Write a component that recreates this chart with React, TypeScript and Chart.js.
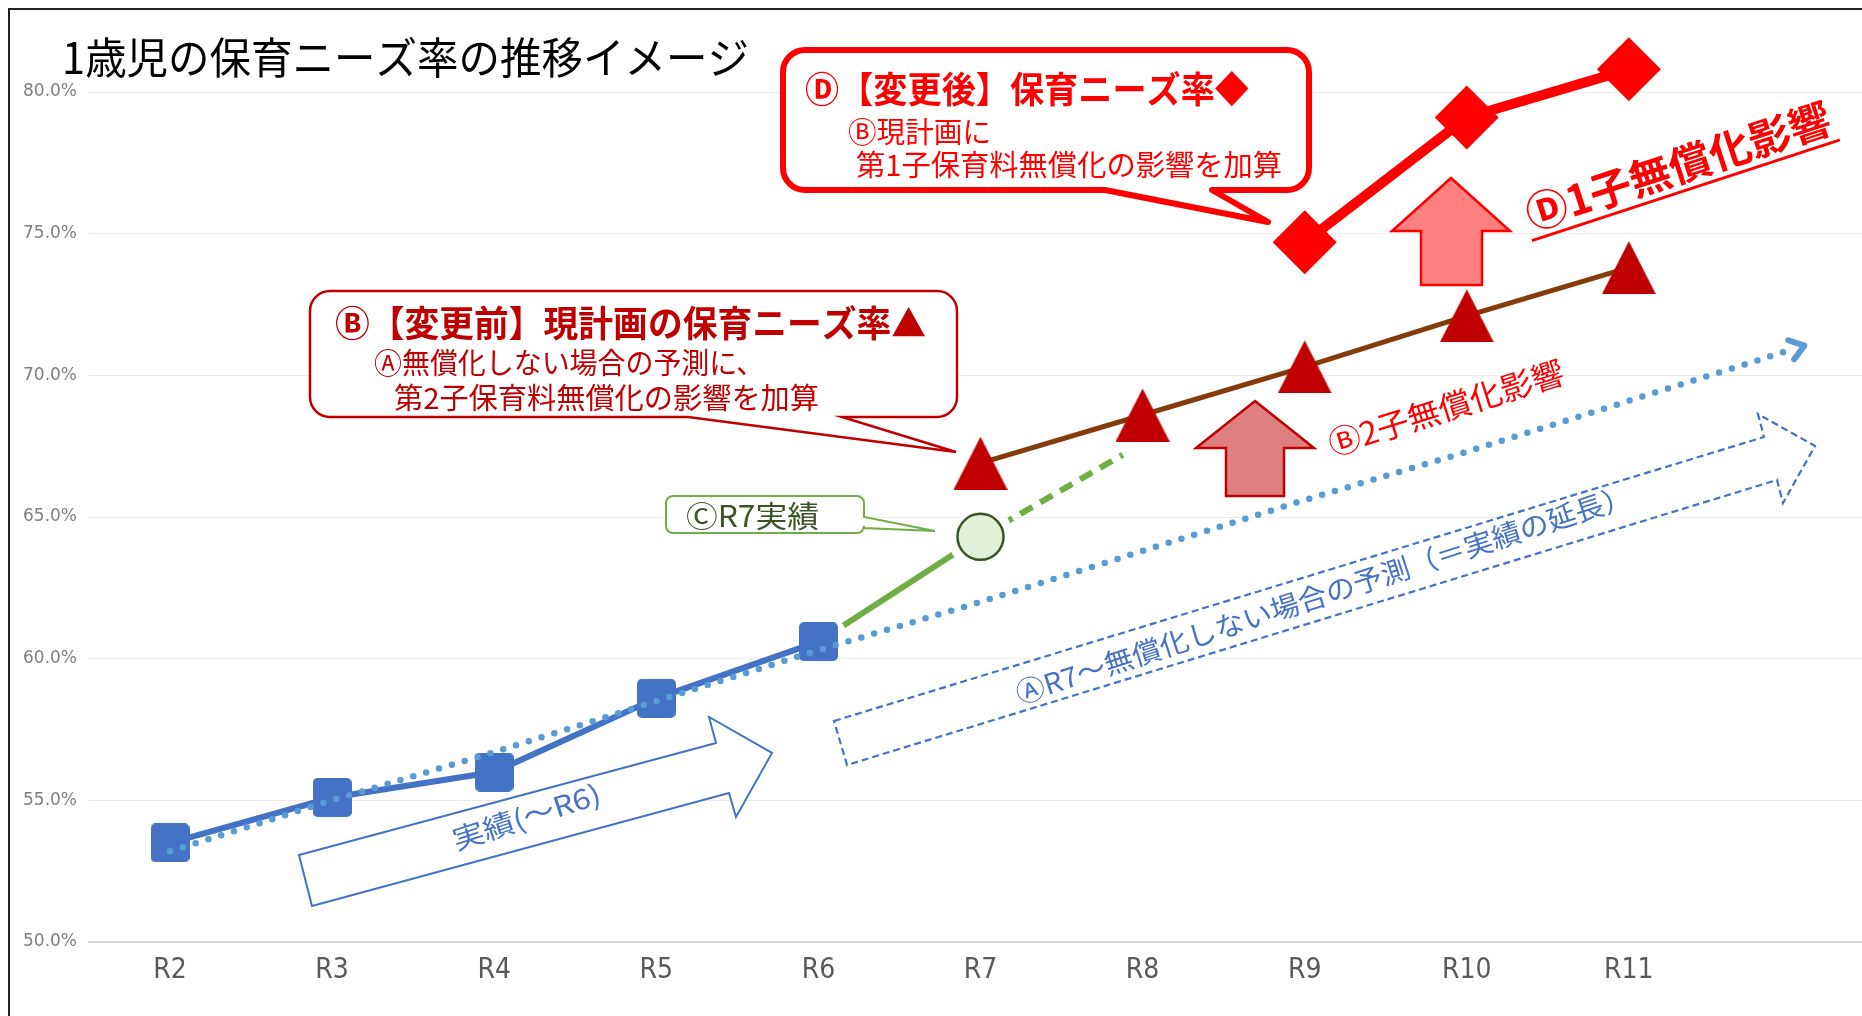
import React, { useEffect, useRef } from 'react';
import { Chart, registerables } from 'chart.js';

Chart.register(...registerables);

// ---- data ----
const CATEGORIES = ['R2', 'R3', 'R4', 'R5', 'R6', 'R7', 'R8', 'R9', 'R10', 'R11', ''];
const Y_TICKS = [50, 55, 60, 65, 70, 75, 80];
const ACTUAL = [53.5, 55.1, 56.0, 58.6, 60.6, null, null, null, null, null, null];
const NO_FREE_TREND = [53.2, 55.0, 56.7, 58.5, 60.3, 62.0, 63.8, 65.6, 67.3, 69.1, 70.9];
const R7_RESULT = [null, null, null, null, 60.6, 64.3, 67.6, null, null, null, null];
const R7_MARK = [null, null, null, null, null, 64.3, null, null, null, null, null];
const PLAN_BEFORE = [null, null, null, null, null, 66.9, 68.6, 70.3, 72.1, 73.8, null];
const PLAN_AFTER = [null, null, null, null, null, null, null, 74.7, 79.1, 80.8, null];

// gap (px) left open around each point of the green line
const GREEN_GAPS = [0, 0, 0, 0, 30, 33, 23, 0, 0, 0, 0];
const GREEN_LINE_INDEX = 5;

const TITLE = '1歳児の保育ニーズ率の推移イメージ';
const JP = "'Noto Sans CJK JP', 'Noto Sans', sans-serif";

function makeSquare(): HTMLCanvasElement {
  const c = document.createElement('canvas');
  c.width = 39; c.height = 39;
  const g = c.getContext('2d')!;
  g.fillStyle = '#4472C4';
  g.beginPath();
  (g as any).roundRect(0, 0, 39, 39, 5);
  g.fill();
  return c;
}
function makeTriangle(): HTMLCanvasElement {
  const c = document.createElement('canvas');
  c.width = 54; c.height = 53;
  const g = c.getContext('2d')!;
  g.fillStyle = '#C00000';
  g.beginPath();
  g.moveTo(27, 0); g.lineTo(54, 53); g.lineTo(0, 53); g.closePath();
  g.fill();
  return c;
}

function drawInk(ctx: CanvasRenderingContext2D, text: string, cx: number, cy: number, w: number,
  font: string, color: string, angle = 0, underline = 0) {
  ctx.save();
  ctx.font = font;
  ctx.fillStyle = color;
  ctx.textAlign = 'left';
  ctx.textBaseline = 'alphabetic';
  const m = ctx.measureText(text);
  const l = -m.actualBoundingBoxLeft, r = m.actualBoundingBoxRight;
  const a = m.actualBoundingBoxAscent, d = m.actualBoundingBoxDescent;
  const s = w / (r - l);
  ctx.translate(cx, cy);
  ctx.rotate(angle);
  ctx.scale(s, 1);
  const ox = -(l + r) / 2, oy = (a - d) / 2;
  ctx.fillText(text, ox, oy);
  if (underline) {
    const ext = 4 / s;
    ctx.fillRect(ox + l - ext, oy + d + 3, r - l + 2 * ext, underline);
  }
  ctx.restore();
}

function roundBoxPath(ctx: CanvasRenderingContext2D, x0: number, y0: number, x1: number, y1: number, r: number,
  tail: { side: 'bottom' | 'right'; a: number; b: number; tip: [number, number] }) {
  ctx.beginPath();
  ctx.moveTo(x0 + r, y0);
  ctx.lineTo(x1 - r, y0);
  ctx.arcTo(x1, y0, x1, y0 + r, r);
  if (tail.side === 'right') {
    ctx.lineTo(x1, tail.a);
    ctx.lineTo(tail.tip[0], tail.tip[1]);
    ctx.lineTo(x1, tail.b);
  }
  ctx.lineTo(x1, y1 - r);
  ctx.arcTo(x1, y1, x1 - r, y1, r);
  if (tail.side === 'bottom') {
    ctx.lineTo(tail.b, y1);
    ctx.lineTo(tail.tip[0], tail.tip[1]);
    ctx.lineTo(tail.a, y1);
  }
  ctx.lineTo(x0 + r, y1);
  ctx.arcTo(x0, y1, x0, y1 - r, r);
  ctx.lineTo(x0, y0 + r);
  ctx.arcTo(x0, y0, x0 + r, y0, r);
  ctx.closePath();
}

function poly(ctx: CanvasRenderingContext2D, pts: number[][]) {
  ctx.beginPath();
  ctx.moveTo(pts[0][0], pts[0][1]);
  for (let i = 1; i < pts.length; i++) ctx.lineTo(pts[i][0], pts[i][1]);
  ctx.closePath();
}

function upArrow(ctx: CanvasRenderingContext2D, tipX: number, tipY: number, headY: number, headL: number, headR: number,
  shaftL: number, shaftR: number, bottom: number, fill: string, stroke: string) {
  poly(ctx, [[tipX, tipY], [headR, headY], [shaftR, headY], [shaftR, bottom], [shaftL, bottom], [shaftL, headY], [headL, headY]]);
  ctx.fillStyle = fill;
  ctx.fill();
  ctx.lineWidth = 2.5;
  ctx.strokeStyle = stroke;
  ctx.lineJoin = 'miter';
  ctx.stroke();
}

const gapPlugin = {
  id: 'greenGaps',
  beforeDatasetDraw(chart: any, args: any) {
    if (args.index !== GREEN_LINE_INDEX) return;
    const ctx: CanvasRenderingContext2D = chart.ctx;
    ctx.save();
    ctx.beginPath();
    ctx.rect(0, 0, chart.width, chart.height);
    const pts = chart.getDatasetMeta(args.index).data;
    pts.forEach((p: any, i: number) => {
      const r = GREEN_GAPS[i];
      if (r > 0 && p && !p.skip) {
        ctx.moveTo(p.x + r, p.y);
        ctx.arc(p.x, p.y, r, 0, Math.PI * 2);
      }
    });
    ctx.clip('evenodd');
  },
  afterDatasetDraw(chart: any, args: any) {
    if (args.index !== GREEN_LINE_INDEX) return;
    chart.ctx.restore();
  },
};

const annotationPlugin = {
  id: 'annotations',
  afterDatasetsDraw(chart: any) {
    const ctx: CanvasRenderingContext2D = chart.ctx;
    ctx.save();

    // arrow head at end of the dotted trend line
    const tm = chart.getDatasetMeta(2);
    const pA = tm.data[tm.data.length - 2];
    const pB = tm.data[tm.data.length - 1];
    if (pA && pB) {
      const dx = pB.x - pA.x, dy = pB.y - pA.y;
      const len = Math.hypot(dx, dy);
      const ux = dx / len, uy = dy / len;
      const tx = pB.x + ux * 14, ty = pB.y + uy * 14;
      ctx.strokeStyle = '#5B9BD5';
      ctx.lineWidth = 6;
      ctx.lineCap = 'round';
      ctx.lineJoin = 'round';
      const ang = Math.PI / 5;
      ctx.beginPath();
      for (const sgn of [1, -1]) {
        const c = Math.cos(sgn * ang), s = Math.sin(sgn * ang);
        const bx = -ux * c + uy * s, by = -ux * s - uy * c;
        ctx.moveTo(tx, ty);
        ctx.lineTo(tx + bx * 17, ty + by * 17);
      }
      ctx.stroke();
    }

    // outline arrow: 実績(～R6)
    ctx.lineCap = 'butt';
    ctx.lineJoin = 'miter';
    poly(ctx, [[299, 855], [716, 743], [709, 717], [772, 753], [736, 817], [729, 793], [312, 906]]);
    ctx.fillStyle = '#FFFFFF';
    ctx.fill();
    ctx.strokeStyle = '#4472C4';
    ctx.lineWidth = 2;
    ctx.stroke();

    // dashed outline arrow: Ⓐ forecast
    poly(ctx, [[834, 721], [1764, 437], [1758, 414], [1815, 446], [1783, 503], [1777, 480], [847, 765]]);
    ctx.fillStyle = '#FFFFFF';
    ctx.fill();
    ctx.setLineDash([7, 4]);
    ctx.strokeStyle = '#4472C4';
    ctx.lineWidth = 2.2;
    ctx.stroke();
    ctx.setLineDash([]);

    // block up arrows
    upArrow(ctx, 1255, 401, 448, 1196, 1314, 1226, 1284, 496, '#DF8080', '#C00000');
    upArrow(ctx, 1451, 178, 231, 1392, 1510, 1421, 1482, 285, '#FF8080', '#FF0000');

    // callout D
    roundBoxPath(ctx, 783, 50, 1309, 190, 22, { side: 'bottom', a: 1105, b: 1212, tip: [1268, 222] });
    ctx.fillStyle = '#FFFFFF';
    ctx.fill();
    ctx.strokeStyle = '#FF0000';
    ctx.lineWidth = 6;
    ctx.lineJoin = 'round';
    ctx.stroke();

    // callout B
    roundBoxPath(ctx, 310, 291, 957, 417, 20, { side: 'bottom', a: 688, b: 842, tip: [956, 452] });
    ctx.fillStyle = '#FFFFFF';
    ctx.fill();
    ctx.strokeStyle = '#C00000';
    ctx.lineWidth = 2.5;
    ctx.lineJoin = 'miter';
    ctx.stroke();

    // callout C
    roundBoxPath(ctx, 666, 496, 864, 533, 7, { side: 'right', a: 517, b: 528, tip: [935, 531] });
    ctx.fillStyle = '#FFFFFF';
    ctx.fill();
    ctx.strokeStyle = '#70AD47';
    ctx.lineWidth = 2;
    ctx.stroke();

    // texts
    drawInk(ctx, TITLE, 65 + 682 / 2, 57, 682, `43px ${JP}`, '#000000');

    drawInk(ctx, 'Ⓓ【変更後】保育ニーズ率◆', 806 + 443 / 2, 88, 443, `bold 36px ${JP}`, '#FF0000');
    drawInk(ctx, 'Ⓑ現計画に', 848 + 141 / 2, 131, 141, `29px ${JP}`, '#FF0000');
    drawInk(ctx, '第1子保育料無償化の影響を加算', 856 + 425 / 2, 164, 425, `29px ${JP}`, '#FF0000');

    drawInk(ctx, 'Ⓑ【変更前】現計画の保育ニーズ率▲', 336 + 589 / 2, 322, 589, `bold 36px ${JP}`, '#C00000');
    drawInk(ctx, 'Ⓐ無償化しない場合の予測に、', 374 + 372 / 2, 362, 372, `29px ${JP}`, '#C00000');
    drawInk(ctx, '第2子保育料無償化の影響を加算', 394 + 424 / 2, 397, 424, `29px ${JP}`, '#C00000');

    drawInk(ctx, 'ⒸR7実績', 687 + 132 / 2, 516, 132, `30px ${JP}`, '#375623');

    const deg = Math.PI / 180;
    drawInk(ctx, 'Ⓓ1子無償化影響', 1678, 166, 316, `bold 42px ${JP}`, '#FF0000', -18.1 * deg, 3);
    drawInk(ctx, 'Ⓑ2子無償化影響', 1446, 408, 243, `32px ${JP}`, '#FF0000', -17.5 * deg);
    drawInk(ctx, '実績(～R6)', 526, 818, 150, `28px ${JP}`, '#4472C4', -18 * deg);
    drawInk(ctx, 'ⒶR7～無償化しない場合の予測（＝実績の延長）', 1314, 597, 626, `28px ${JP}`, '#4472C4', -18 * deg);

    ctx.restore();
  },
  afterDraw(chart: any) {
    const ctx: CanvasRenderingContext2D = chart.ctx;
    ctx.save();
    ctx.fillStyle = '#222222';
    ctx.fillRect(8, 8, 2, 1016);
    ctx.fillRect(8, 8, 1870, 2);
    ctx.restore();
  },
};

export default function App() {
  const ref = useRef<HTMLCanvasElement>(null);
  useEffect(() => {
    const canvas = ref.current!;
    const square = makeSquare();
    const tri = makeTriangle();
    const chart = new Chart(canvas, {
      type: 'line',
      data: {
        labels: CATEGORIES,
        datasets: [
          {
            label: 'Ⓓ変更後',
            data: PLAN_AFTER,
            borderColor: '#FF0000',
            backgroundColor: '#FF0000',
            borderWidth: 10,
            pointStyle: 'rectRot',
            pointRadius: 32,
            pointBackgroundColor: '#FF0000',
            pointBorderWidth: 0,
            clip: false as any,
            order: 0,
          },
          {
            label: 'Ⓑ変更前',
            data: PLAN_BEFORE,
            borderColor: '#843C0C',
            borderWidth: 5,
            pointStyle: tri as any,
            pointRadius: 26,
            order: 1,
          },
          {
            label: 'Ⓐ予測',
            data: NO_FREE_TREND,
            borderColor: '#5B9BD5',
            borderWidth: 6.5,
            borderDash: [0, 13.4],
            borderCapStyle: 'round',
            pointRadius: 0,
            order: 2,
          },
          {
            label: '実績',
            data: ACTUAL,
            borderColor: '#4472C4',
            borderWidth: 6,
            pointStyle: square as any,
            pointRadius: 20,
            order: 3,
          },
          {
            label: 'ⒸR7実績',
            data: R7_MARK,
            showLine: false,
            pointRadius: 23,
            pointBackgroundColor: '#E2F0D9',
            pointBorderColor: '#375623',
            pointBorderWidth: 2.5,
            order: 4,
          },
          {
            label: 'ⒸR7実績（線）',
            data: R7_RESULT,
            borderColor: '#70AD47',
            borderWidth: 6,
            segment: { borderDash: (c: any) => (c.p0DataIndex >= 5 ? [14, 9] : undefined) },
            pointRadius: 0,
            order: 5,
          },
        ],
      },
      options: {
        animation: false,
        responsive: false,
        devicePixelRatio: 1,
        layout: { autoPadding: false, padding: { top: 92, left: 0, right: 0, bottom: 0 } },
        plugins: { legend: { display: false }, tooltip: { enabled: false }, title: { display: false } },
        scales: {
          x: {
            offset: true,
            afterFit: (s: any) => { s.height = 74; s.paddingLeft = 0; s.paddingRight = 0; },
            grid: { display: false, drawTicks: false },
            border: { display: true, color: '#D9D9D9', width: 2 },
            ticks: {
              padding: 12,
              color: '#595959',
              font: { family: "'Liberation Sans Narrow', 'DejaVu Sans Condensed', sans-serif", size: 28 },
              maxRotation: 0,
              autoSkip: false,
            },
          },
          y: {
            min: 50,
            max: 80,
            afterBuildTicks: (s: any) => { s.ticks = Y_TICKS.map((v) => ({ value: v })); },
            afterFit: (s: any) => { s.width = 89; },
            grid: { color: '#EBEBEB', lineWidth: 1, drawTicks: false },
            border: { display: false },
            ticks: {
              padding: 12,
              color: '#7F7F7F',
              font: { family: "'DejaVu Sans', sans-serif", size: 17 },
              callback: (v: any) => Number(v).toFixed(1) + '%',
            },
          },
        },
      },
      plugins: [gapPlugin, annotationPlugin],
    });
    return () => chart.destroy();
  }, []);
  return (
    <div style={{ position: 'fixed', left: 0, top: 0, width: 1862, height: 1016, overflow: 'hidden', background: '#FFFFFF' }}>
      <canvas ref={ref} width={1872} height={1016} style={{ display: 'block', width: 1872, height: 1016 }} />
    </div>
  );
}
